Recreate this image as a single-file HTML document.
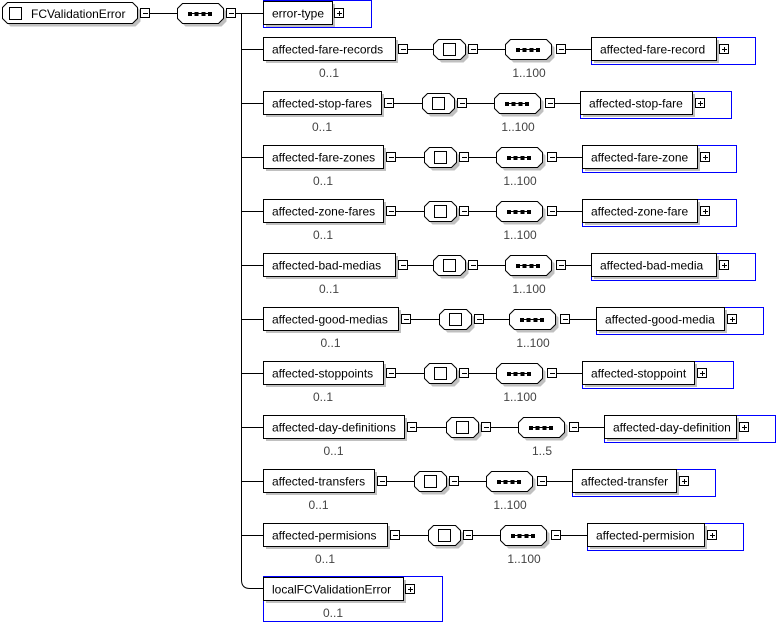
<!DOCTYPE html>
<html><head><meta charset="utf-8"><style>
html,body{margin:0;padding:0;background:#fff;width:782px;height:623px;overflow:hidden}
svg{display:block}
text{font-family:"Liberation Sans",sans-serif;font-size:12px}
</style></head><body>
<svg id="s" width="782" height="623" xmlns="http://www.w3.org/2000/svg"></svg>
<script>
const s=document.getElementById('s');let h='';
function oct(x,y,w,ht,c){return `<polygon points="${x+c},${y} ${x+w-c},${y} ${x+w},${y+c} ${x+w},${y+ht-c} ${x+w-c},${y+ht} ${x+c},${y+ht} ${x},${y+ht-c} ${x},${y+c}"`;}
function octS(x,y,w,ht,c){h+=oct(x+3,y+3,w,ht,c)+' fill="#c0c0c0"/>';h+=oct(x,y,w,ht,c)+' fill="#fff" stroke="#000"/>';}
function seqIcon(cx,cy){h+=`<line x1="${cx-11}" y1="${cy+.5}" x2="${cx+11}" y2="${cy+.5}" stroke="#000"/>`;for(const d of [-10,-3.5,3.5,10])h+=`<rect x="${cx+d-2}" y="${cy-1}" width="4" height="4" fill="#000"/>`;}
function minus(cx,cy){h+=`<rect x="${cx-4.5}" y="${cy-4.5}" width="9" height="9" fill="#fff" stroke="#000"/><line x1="${cx-2}" y1="${cy+.5}" x2="${cx+3}" y2="${cy+.5}" stroke="#000"/>`;}
function plus(cx,cy){minus(cx,cy);h+=`<line x1="${cx+.5}" y1="${cy-2}" x2="${cx+.5}" y2="${cy+3}" stroke="#000"/>`;}
function line(x1,y1,x2,y2){h+=`<line x1="${x1}" y1="${y1}" x2="${x2}" y2="${y2}" stroke="#000"/>`;}
function box(x,y,w,ht,t){h+=`<rect x="${x+3}" y="${y+3}" width="${w}" height="${ht}" fill="#c0c0c0"/><rect x="${x+.5}" y="${y+.5}" width="${w}" height="${ht}" fill="#fff" stroke="#000"/><text x="${x+9}" y="${y+ht/2+5}">${t}</text>`;}
function choice(x,cy){octS(x+.5,cy-10+.5,32,20,5);h+=`<rect x="${x+10.5}" y="${cy-5.5}" width="12" height="12" fill="#fff" stroke="#000"/>`;}
function seq(x,cy,w){octS(x+.5,cy-10+.5,w,20,5);seqIcon(x+w/2,cy);}
function lbl(cx,y,t){h+=`<text x="${cx}" y="${y}" text-anchor="middle" fill="#444">${t}</text>`;}
octS(2.5,2.5,135,21,5);h+=`<rect x="9.5" y="7.5" width="12" height="12" fill="#fff" stroke="#000"/><text x="31" y="18">FCValidationError</text>`;
minus(145,13);line(150,13.5,178,13.5);
seq(177,13,46);minus(231,13);line(236,13.5,263,13.5);
line(241.5,13,241.5,580);h+=`<path d="M241.5 580 Q241.5 588.5 250 588.5 L263 588.5" fill="none" stroke="#000"/>`;
h+=`<rect x="263.5" y="0.5" width="108" height="27" fill="none" stroke="#00f"/>`;
box(263,1,69,23,'error-type');plus(339,13);
const rows=[
['affected-fare-records',395,433,505,591,125,'affected-fare-record','1..100'],
['affected-stop-fares',381,422,494,580,112,'affected-stop-fare','1..100'],
['affected-fare-zones',383,424,496,582,115,'affected-fare-zone','1..100'],
['affected-zone-fares',383,424,496,582,115,'affected-zone-fare','1..100'],
['affected-bad-medias',395,433,505,591,125,'affected-bad-media','1..100'],
['affected-good-medias',398,439,509,596,128,'affected-good-media','1..100'],
['affected-stoppoints',383,424,496,582,112,'affected-stoppoint','1..100'],
['affected-day-definitions',404,446,518,604,132,'affected-day-definition','1..5'],
['affected-transfers',374,414,486,572,104,'affected-transfer','1..100'],
['affected-permisions',387,428,500,587,117,'affected-permision','1..100']];
rows.forEach((r,i)=>{const c=49+54*i;const [t,R,cx,sx,bx,iw,it,m]=r;
line(241,c+.5,263,c+.5);
box(263,c-12,R-263,23,t);lbl((263+R)/2,c+28,'0..1');
minus(R+8,c);line(R+13,c+.5,cx,c+.5);
choice(cx,c);minus(cx+40,c);line(cx+45,c+.5,sx,c+.5);
seq(sx,c,46);minus(sx+56,c);line(sx+61,c+.5,bx,c+.5);lbl(sx+24,c+28,m);
h+=`<rect x="${bx+.5}" y="${c-11.5}" width="${iw+39}" height="27" fill="none" stroke="#00f"/>`;
box(bx,c-12,iw,23,it);plus(bx+iw+8,c);
});
h+=`<rect x="263.5" y="576.5" width="179" height="45" fill="none" stroke="#00f"/>`;
box(263,577,140,23,'localFCValidationError');plus(410,589);lbl(333,617,'0..1');
s.innerHTML=h;
</script>
</body></html>
